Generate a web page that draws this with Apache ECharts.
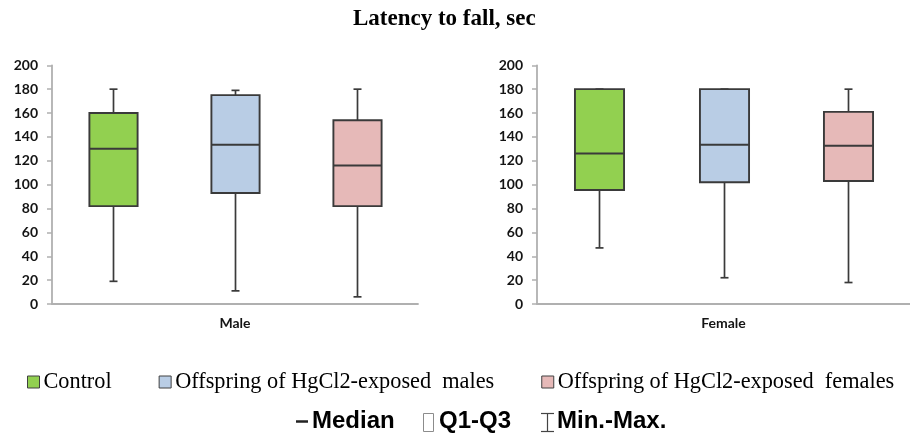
<!DOCTYPE html>
<html>
<head>
<meta charset="utf-8">
<title>Latency to fall, sec</title>
<script src="https://cdn.jsdelivr.net/npm/echarts@6/dist/echarts.min.js"></script>
<style>
  html, body { margin: 0; padding: 0; background: #ffffff; }
  #chart { width: 910px; height: 434px; }
</style>
</head>
<body>
<div id="chart"></div>
<script>
// Groups shown in each panel (one box per group) and the two panels
const groups = ['Control', 'Offspring of HgCl2-exposed  males', 'Offspring of HgCl2-exposed  females'];
const sexes = ['Male', 'Female'];
const groupColors = ['#92d050', '#b9cde5', '#e6b9b8'];

// Box summaries: [min, Q1, median, Q3, max], seconds
const controlMale = [19, 82, 130, 160, 180];
const hgMalesMale = [11, 93, 133.5, 175, 179];
const hgFemalesMale = [6, 82, 116, 154, 180];
const controlFemale = [47, 95.5, 126, 180, 180];
const hgMalesFemale = [22, 102, 133.5, 180, 180];
const hgFemalesFemale = [18, 103, 132.5, 161, 180];

const yTicks = [0, 20, 40, 60, 80, 100, 120, 140, 160, 180, 200];

const panelStats = [
  [controlMale, hgMalesMale, hgFemalesMale],
  [controlFemale, hgMalesFemale, hgFemalesFemale]
];

const lineColor = '#3a3a3a';
const axisColor = '#b0b0b0';
const labelFont = { fontFamily: 'Lato', fontWeight: 'bold', fontSize: 14, color: '#141414' };

// Whisker-and-box glyph drawn in axis coordinates
function renderBox(params, api) {
  const x = api.value(0);
  const pMin = api.coord([x, api.value(1)]);
  const pQ1 = api.coord([x, api.value(2)]);
  const pMed = api.coord([x, api.value(3)]);
  const pQ3 = api.coord([x, api.value(4)]);
  const pMax = api.coord([x, api.value(5)]);
  const bw = api.size([1, 0])[0] * 0.395;
  const cx = Math.round(pMed[0]) + 0.5;
  const cap = 4;
  const lineStyle = { stroke: lineColor, lineWidth: 1.7 };
  return {
    type: 'group',
    children: [
      { type: 'line', shape: { x1: cx, y1: pMax[1], x2: cx, y2: pQ3[1] }, style: lineStyle },
      { type: 'line', shape: { x1: cx, y1: pQ1[1], x2: cx, y2: pMin[1] }, style: lineStyle },
      { type: 'line', shape: { x1: cx - cap, y1: pMax[1], x2: cx + cap, y2: pMax[1] }, style: lineStyle },
      { type: 'line', shape: { x1: cx - cap, y1: pMin[1], x2: cx + cap, y2: pMin[1] }, style: lineStyle },
      {
        type: 'rect',
        shape: { x: cx - bw / 2, y: pQ3[1], width: bw, height: pQ1[1] - pQ3[1] },
        style: { fill: api.visual('color'), stroke: lineColor, lineWidth: 1.9 }
      },
      {
        type: 'line',
        shape: { x1: cx - bw / 2, y1: pMed[1], x2: cx + bw / 2, y2: pMed[1] },
        style: { stroke: lineColor, lineWidth: 2 }
      }
    ]
  };
}

const grids = [
  { left: 52, right: 492, top: 65.3, bottom: 130 },
  { left: 537, right: -12, top: 65.3, bottom: 130 }
];

const xAxes = sexes.map((sex, i) => ({
  type: 'category',
  gridIndex: i,
  data: groups,
  axisLine: { lineStyle: { color: axisColor, width: 1.8 } },
  axisTick: { show: false },
  axisLabel: { show: false },
  name: sex,
  nameLocation: 'middle',
  nameGap: 12,
  nameTextStyle: Object.assign({}, labelFont, { fontSize: 14, verticalAlign: 'top' })
}));

const yAxes = sexes.map((sex, i) => ({
  type: 'value',
  gridIndex: i,
  min: yTicks[0],
  max: yTicks[yTicks.length - 1],
  interval: yTicks[1] - yTicks[0],
  axisLine: { show: true, lineStyle: { color: axisColor, width: 1.8 } },
  axisTick: { show: true, length: 5, lineStyle: { color: axisColor, width: 1.5 } },
  axisLabel: Object.assign({ margin: 14 }, labelFont),
  splitLine: { show: false }
}));

const series = [];
panelStats.forEach((stats, p) => {
  stats.forEach((s, g) => {
    series.push({
      type: 'custom',
      name: groups[g],
      xAxisIndex: p,
      yAxisIndex: p,
      itemStyle: { color: groupColors[g] },
      encode: { x: 0, y: [1, 2, 3, 4, 5] },
      data: [[g].concat(s)],
      renderItem: renderBox,
      silent: true
    });
  });
});

// Key for the box parts
const keyY = 421.5;
const keyFont = 'bold 24px "Liberation Sans", Arial, sans-serif';
const keyGraphics = [
  { type: 'line', shape: { x1: 296, y1: keyY, x2: 308, y2: keyY }, style: { stroke: '#222', lineWidth: 2.5 } },
  { type: 'text', x: 312, y: keyY, style: { text: 'Median', font: keyFont, fill: '#000', verticalAlign: 'middle' } },
  { type: 'rect', shape: { x: 423.5, y: 413.5, width: 10, height: 18 }, style: { fill: 'none', stroke: '#8c8c8c', lineWidth: 1 } },
  { type: 'text', x: 439, y: keyY, style: { text: 'Q1-Q3', font: keyFont, fill: '#000', verticalAlign: 'middle' } },
  { type: 'line', shape: { x1: 547.5, y1: 413, x2: 547.5, y2: 432 }, style: { stroke: '#444', lineWidth: 1.2 } },
  { type: 'line', shape: { x1: 541, y1: 413.5, x2: 554, y2: 413.5 }, style: { stroke: '#444', lineWidth: 1.2 } },
  { type: 'line', shape: { x1: 541, y1: 431.5, x2: 554, y2: 431.5 }, style: { stroke: '#444', lineWidth: 1.2 } },
  { type: 'text', x: 557, y: keyY, style: { text: 'Min.-Max.', font: keyFont, fill: '#000', verticalAlign: 'middle' } }
];

const chart = echarts.init(document.getElementById('chart'), null, { renderer: 'canvas' });
chart.setOption({
  animation: false,
  backgroundColor: '#ffffff',
  title: {
    text: 'Latency to fall, sec',
    left: 353,
    top: 8,
    padding: 0,
    textStyle: { fontFamily: '"Liberation Serif", "Times New Roman", serif', fontWeight: 'bold', fontSize: 23, color: '#000' }
  },
  legend: {
    data: groups,
    left: 27,
    top: 371,
    padding: 0,
    icon: 'rect',
    itemWidth: 12,
    itemHeight: 12,
    itemGap: 47,
    selectedMode: false,
    itemStyle: { borderColor: '#404040', borderWidth: 1 },
    textStyle: { fontFamily: '"Liberation Serif", "Times New Roman", serif', fontSize: 22.3, color: '#000', padding: [0, 0, 0, -1] }
  },
  grid: grids,
  xAxis: xAxes,
  yAxis: yAxes,
  series: series,
  graphic: keyGraphics
});
</script>
</body>
</html>
